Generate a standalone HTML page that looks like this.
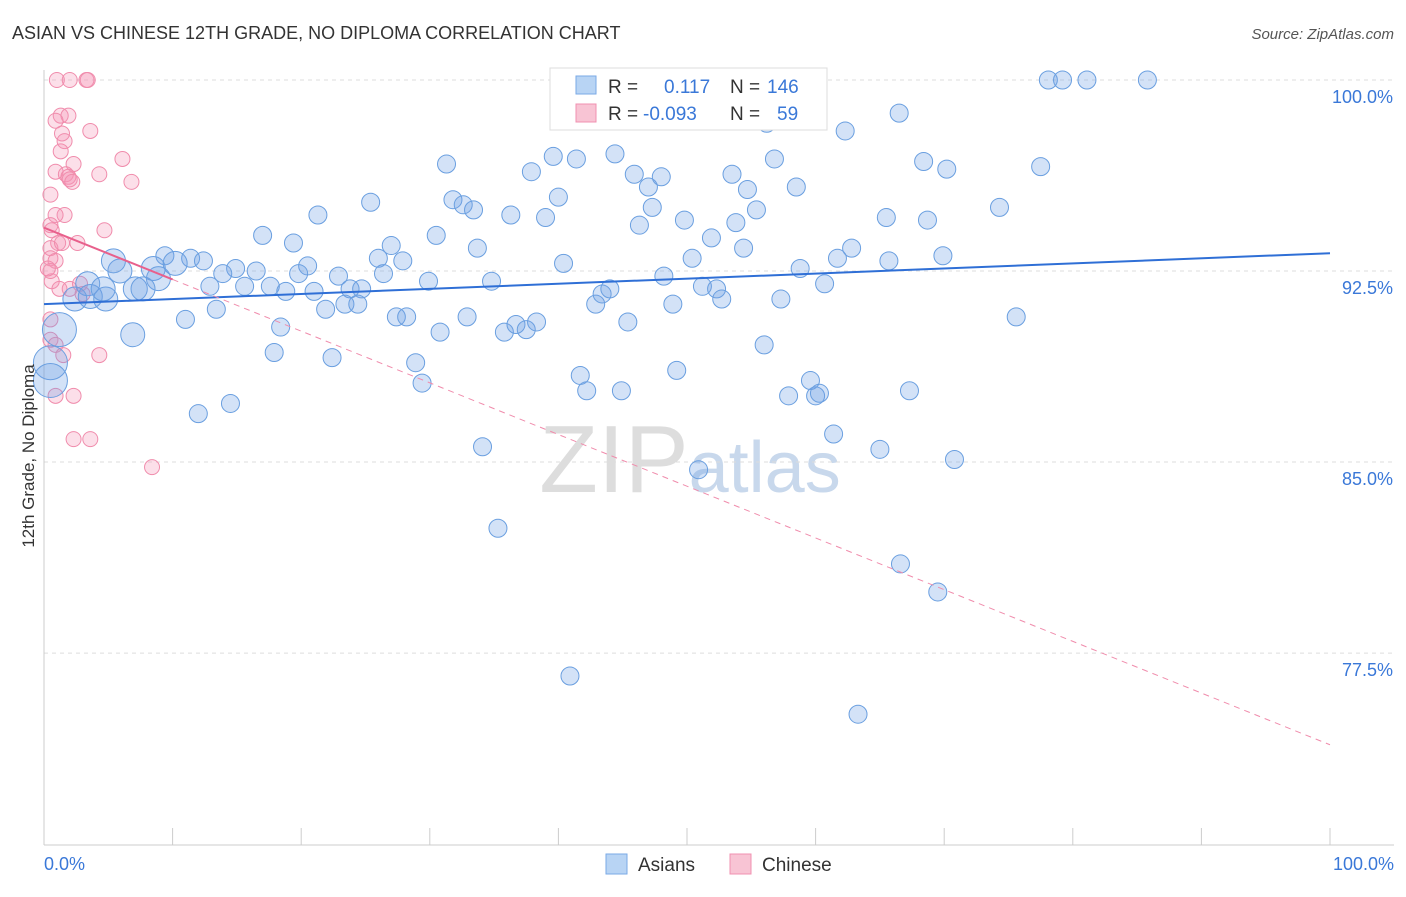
<!DOCTYPE html>
<html><head><meta charset="utf-8"><style>
body{margin:0;background:#fff;font-family:"Liberation Sans",sans-serif}
svg text{font-family:"Liberation Sans",sans-serif}
</style></head><body>
<svg id="chart" width="1406" height="892" xmlns="http://www.w3.org/2000/svg">
<text x="12" y="39" font-size="18" fill="#333">ASIAN VS CHINESE 12TH GRADE, NO DIPLOMA CORRELATION CHART</text>
<text x="1394" y="39" font-size="15" fill="#555" text-anchor="end" font-style="italic">Source: ZipAtlas.com</text>
<text x="690" y="492" font-size="96" fill="#ddd" text-anchor="middle" font-family="Liberation Serif">ZIP<tspan fill="#c8d8ec" font-family="Liberation Sans" font-size="72">atlas</tspan></text>
<g id="grid"></g><g id="axes"></g><g id="pts"></g><g id="trends"></g>
<text transform="translate(34,456) rotate(-90)" font-size="17" fill="#333" text-anchor="middle">12th Grade, No Diploma</text>
<g>
<rect x="550" y="68" width="277" height="62" fill="#fff" stroke="#ddd"/>
<rect x="576" y="76" width="20" height="18" fill="#b8d4f4" stroke="#7aaae6"/>
<text x="608" y="93" font-size="19" fill="#333">R = </text><text x="664" y="93" font-size="19" fill="#3a78d8">0.117</text>
<text x="730" y="93" font-size="19" fill="#333">N = </text><text x="767" y="93" font-size="19" fill="#3a78d8">146</text>
<rect x="576" y="104" width="20" height="18" fill="#f8c4d4" stroke="#f090b0"/>
<text x="608" y="120" font-size="19" fill="#333">R = </text><text x="643" y="120" font-size="19" fill="#3a78d8">-0.093</text>
<text x="730" y="120" font-size="19" fill="#333">N = </text><text x="777" y="120" font-size="19" fill="#3a78d8">59</text>
</g>
<g><rect x="606" y="854" width="21" height="20" fill="#b8d4f4" stroke="#7aaae6"/><text x="638" y="871" font-size="19" fill="#333">Asians</text></g>
<g><rect x="730" y="854" width="21" height="20" fill="#f8c4d4" stroke="#f090b0"/><text x="762" y="871" font-size="19" fill="#333">Chinese</text></g>
</svg>
<script>
const blue=[[78.1,100],[79.2,100],[81.1,100],[85.8,100],[66.5,98.7],[56.2,98.3],[62.3,98.0],[31.3,96.7],[39.6,97.0],[41.4,96.9],[44.4,97.1],[37.9,96.4],[45.9,96.3],[47.0,95.8],[48.0,96.2],[53.5,96.3],[56.8,96.9],[54.7,95.7],[58.5,95.8],[68.4,96.8],[70.2,96.5],[77.5,96.6],[25.4,95.2],[31.8,95.3],[32.6,95.1],[33.4,94.9],[36.3,94.7],[39.0,94.6],[40.0,95.4],[47.3,95.0],[46.3,94.3],[49.8,94.5],[53.8,94.4],[55.4,94.9],[65.5,94.6],[68.7,94.5],[74.3,95.0],[21.3,94.7],[17.0,93.9],[19.4,93.6],[30.5,93.9],[33.7,93.4],[27.0,93.5],[26.0,93.0],[27.9,92.9],[40.4,92.8],[50.4,93.0],[51.9,93.8],[54.4,93.4],[61.7,93.0],[62.8,93.4],[69.9,93.1],[65.7,92.9],[58.8,92.6],[9.4,93.1],[11.4,93.0],[12.4,92.9],[14.9,92.6],[16.5,92.5],[13.9,92.4],[20.5,92.7],[19.8,92.4],[22.9,92.3],[26.4,92.4],[12.9,91.9],[15.6,91.9],[17.6,91.9],[18.8,91.7],[21.0,91.7],[23.8,91.8],[24.7,91.8],[29.9,92.1],[34.8,92.1],[48.2,92.3],[51.2,91.9],[52.3,91.8],[52.7,91.4],[57.3,91.4],[60.7,92.0],[42.9,91.2],[43.4,91.6],[44.0,91.8],[48.9,91.2],[21.9,91.0],[23.4,91.2],[24.4,91.2],[27.4,90.7],[28.2,90.7],[32.9,90.7],[30.8,90.1],[35.8,90.1],[36.7,90.4],[37.5,90.2],[38.3,90.5],[45.4,90.5],[11.0,90.6],[13.4,91.0],[18.4,90.3],[75.6,90.7],[17.9,89.3],[22.4,89.1],[28.9,88.9],[29.4,88.1],[41.7,88.4],[42.2,87.8],[44.9,87.8],[49.2,88.6],[56.0,89.6],[57.9,87.6],[59.6,88.2],[60.0,87.6],[60.3,87.7],[67.3,87.8],[12.0,86.9],[14.5,87.3],[34.1,85.6],[50.9,84.7],[61.4,86.1],[65.0,85.5],[70.8,85.1],[35.3,82.4],[66.6,81.0],[69.5,79.9],[40.9,76.6],[63.3,75.1]];
const blueBig=[[1.2,90.2],[0.5,88.9],[0.5,88.2],[3.4,92.0],[2.4,91.4],[3.6,91.5],[4.8,91.4],[5.9,92.5],[5.4,92.9],[8.5,92.6],[8.9,92.2],[7.1,91.8],[7.7,91.8],[6.9,90.0],[10.2,92.8],[4.6,91.8]];
const pink=[[1.0,100],[2.0,100],[3.3,100],[3.4,100],[1.3,98.6],[1.9,98.6],[0.9,98.4],[3.6,98.0],[1.4,97.9],[1.6,97.6],[1.3,97.2],[6.1,96.9],[2.3,96.7],[0.9,96.4],[1.7,96.3],[1.9,96.2],[2.0,96.1],[2.2,96.0],[4.3,96.3],[6.8,96.0],[0.5,95.5],[1.6,94.7],[0.9,94.7],[4.7,94.1],[0.5,94.3],[0.6,94.1],[1.1,93.6],[0.5,93.4],[1.4,93.6],[2.6,93.6],[0.5,93.0],[0.9,92.9],[0.6,92.1],[1.2,91.8],[2.0,91.8],[2.8,92.0],[3.0,91.6],[0.5,90.6],[0.5,89.8],[0.9,89.6],[1.5,89.2],[4.3,89.2],[0.9,87.6],[2.3,87.6],[2.3,85.9],[3.6,85.9],[8.4,84.8],[0.5,92.5],[0.3,92.6]];
const blueTrend=[91.2,93.2];
const pinkTrend=[94.2,73.9];
const yTicks=[100,92.5,85,77.5];
const xTicks=[0,10,20,30,40,50,60,70,80,90,100];
const X=v=>44+v*12.86, Y=v=>80+(100-v)*25.47;
const NS="http://www.w3.org/2000/svg";
function mk(t,a,p){const e=document.createElementNS(NS,t);for(const k in a)e.setAttribute(k,a[k]);document.getElementById(p).appendChild(e);return e;}
yTicks.forEach(v=>{
 const l=mk('line',{x1:44,x2:1394,y1:Y(v),y2:Y(v),stroke:'#ddd','stroke-dasharray':'4,4'},'grid');
 
 
 const t=mk('text',{x:1393,y:Y(v)+23,'font-size':18,fill:'#3a78d8','text-anchor':'end'},'grid');t.textContent=v.toFixed(1)+'%';
 
 
});
const ax=mk('line',{x1:44,x2:1394,y1:845,y2:845,stroke:'#ccc'},'axes');


const ay=mk('line',{x1:44,x2:44,y1:70,y2:845,stroke:'#ccc'},'axes');


xTicks.forEach(v=>{
 const l=mk('line',{x1:X(v),x2:X(v),y1:828,y2:845,stroke:'#ccc'},'axes');
 
 
});
[[0,'0.0%','start',44],[100,'100.0%','end',1394]].forEach(d=>{
 const t=mk('text',{x:d[3],y:870,'font-size':18,fill:'#3a78d8','text-anchor':d[2]},'axes');t.textContent=d[1];
 
 
});
pink.forEach(p=>{
 const c=mk('circle',{cx:X(p[0]),cy:Y(p[1]),r:7.5,fill:'rgba(244,150,182,0.3)',stroke:'#f08cac','stroke-width':1},'pts');
 
 
});
blue.forEach(p=>{
 const c=mk('circle',{cx:X(p[0]),cy:Y(p[1]),r:9,fill:'rgba(110,160,228,0.3)',stroke:'#6a9fe0','stroke-width':1},'pts');
 
 
});
blueBig.forEach((p,i)=>{
 const c=mk('circle',{cx:X(p[0]),cy:Y(p[1]),r:i<3?17:12,fill:'rgba(110,160,228,0.3)',stroke:'#6a9fe0','stroke-width':1},'pts');
 
 
});
const bt=mk('line',{x1:X(0),y1:Y(blueTrend[0]),x2:X(100),y2:Y(blueTrend[1]),stroke:'#2f6fd6','stroke-width':2},'trends');


const py=v=>pinkTrend[0]+(pinkTrend[1]-pinkTrend[0])*v/100;
const pd=mk('line',{x1:X(10),y1:Y(py(10)),x2:X(100),y2:Y(py(100)),stroke:'#f08cac','stroke-width':1,'stroke-dasharray':'6,5'},'trends');


const ps=mk('line',{x1:X(0),y1:Y(py(0)),x2:X(10),y2:Y(py(10)),stroke:'#e8608c','stroke-width':2},'trends');


</script>
</body></html>
